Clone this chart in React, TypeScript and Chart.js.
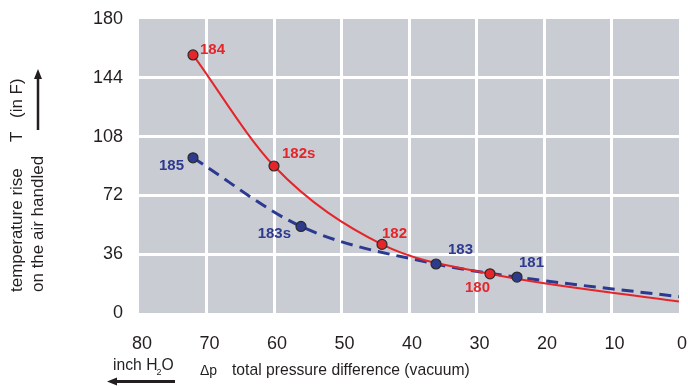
import React, { useEffect, useRef } from "react";
import { Chart, registerables } from "chart.js";

Chart.register(...registerables);

// ---- data ----
const redPressure = [72, 60, 44, 28, 0];
const redTemp = [158, 90, 42, 24, 7];
const redNames = ["184", "182s", "182", "180", ""];

const bluePressure = [72, 56, 36, 24, 0];
const blueTemp = [95, 53, 30, 22, 10];
const blueNames = ["185", "183s", "183", "181", ""];

const xMin = 0;
const xMax = 80;
const xStep = 10;
const yMin = 0;
const yMax = 180;
const yStep = 36;

// ---- styling ----
const FONT = '"Liberation Sans", Arial, Helvetica, sans-serif';
const TEXT = "#231f20";
const RED = "#e4252a";
const BLUE = "#2b3990";
const PLOT_BG = "#c9ccd3";

// label placement relative to the point: [dx, dy, align]
const redLabelPlace: [number, number, CanvasTextAlign][] = [
  [7, -5, "left"],
  [8, -12, "left"],
  [0, -11, "left"],
  [0, 14, "right"],
  [0, 0, "left"],
];
const blueLabelPlace: [number, number, CanvasTextAlign][] = [
  [-9, 8, "right"],
  [-10, 7, "right"],
  [12, -14, "left"],
  [2, -14, "left"],
  [0, 0, "left"],
];

const toPoints = (xs: number[], ys: number[]) => xs.map((x, i) => ({ x, y: ys[i] }));

const bgPlugin = {
  id: "plotBg",
  beforeDraw(chart: any) {
    const { ctx, chartArea } = chart;
    ctx.save();
    ctx.fillStyle = PLOT_BG;
    ctx.fillRect(chartArea.left, chartArea.top, chartArea.right - chartArea.left, chartArea.bottom - chartArea.top);
    ctx.restore();
  },
};

const pointLabelPlugin = {
  id: "pointLabels",
  afterDatasetsDraw(chart: any) {
    const ctx = chart.ctx;
    const sets: [number, string[], [number, number, CanvasTextAlign][], string][] = [
      [2, redNames, redLabelPlace, RED],
      [3, blueNames, blueLabelPlace, "#2e3a8f"],
    ];
    ctx.save();
    ctx.font = `bold 15px ${FONT}`;
    ctx.textBaseline = "middle";
    for (const [di, names, place, color] of sets) {
      const meta = chart.getDatasetMeta(di);
      meta.data.forEach((el: any, i: number) => {
        const t = names[i];
        if (!t) return;
        const [dx, dy, al] = place[i];
        ctx.fillStyle = color;
        ctx.textAlign = al;
        ctx.fillText(t, el.x + dx, el.y + dy);
      });
    }
    ctx.restore();
  },
};

const arrow = (ctx: CanvasRenderingContext2D, x1: number, y1: number, x2: number, y2: number) => {
  const ang = Math.atan2(y2 - y1, x2 - x1);
  const head = 10;
  const half = 4;
  ctx.beginPath();
  ctx.moveTo(x1, y1);
  ctx.lineTo(x2 - Math.cos(ang) * head * 0.8, y2 - Math.sin(ang) * head * 0.8);
  ctx.stroke();
  ctx.beginPath();
  ctx.moveTo(x2, y2);
  ctx.lineTo(x2 - Math.cos(ang) * head - Math.sin(ang) * half, y2 - Math.sin(ang) * head + Math.cos(ang) * half);
  ctx.lineTo(x2 - Math.cos(ang) * head + Math.sin(ang) * half, y2 - Math.sin(ang) * head - Math.cos(ang) * half);
  ctx.closePath();
  ctx.fill();
};

const titlesPlugin = {
  id: "axisTitles",
  afterDraw(chart: any) {
    const ctx: CanvasRenderingContext2D = chart.ctx;
    ctx.save();
    ctx.fillStyle = TEXT;
    ctx.strokeStyle = TEXT;
    // vertical title
    const rot = (text: string, x: number, y: number) => {
      ctx.save();
      ctx.translate(x, y);
      ctx.rotate(-Math.PI / 2);
      ctx.textAlign = "left";
      ctx.textBaseline = "middle";
      ctx.fillText(text, 0, 0);
      ctx.restore();
    };
    ctx.font = `17px ${FONT}`;
    rot("temperature rise", 17, 292);
    rot("T", 17, 142);
    rot("(in F)", 17, 118);
    rot("on the air handled", 38, 292);
    ctx.lineWidth = 2.5;
    arrow(ctx, 38, 130, 38, 69);

    // horizontal title
    ctx.textAlign = "left";
    ctx.textBaseline = "alphabetic";
    ctx.font = `15.7px ${FONT}`;
    const a = "inch H";
    ctx.fillText(a, 113, 370);
    const wa = ctx.measureText(a).width;
    ctx.font = `9px ${FONT}`;
    ctx.fillText("2", 113 + wa - 1, 375);
    const w2 = ctx.measureText("2").width;
    ctx.font = `15.7px ${FONT}`;
    ctx.fillText("O", 113 + wa + w2 - 1, 370);
    ctx.lineWidth = 3;
    arrow(ctx, 175, 381.5, 107, 381.5);

    ctx.font = `14px ${FONT}`;
    ctx.fillText("\u0394p", 200, 375);
    ctx.font = `15.7px ${FONT}`;
    ctx.fillText("total pressure difference (vacuum)", 232, 375);
    ctx.restore();
  },
};

export default function App() {
  const ref = useRef<HTMLCanvasElement>(null);

  useEffect(() => {
    if (!ref.current) return;
    const redPts = toPoints(redPressure, redTemp);
    const bluePts = toPoints(bluePressure, blueTemp);
    const radius = (names: string[]) => names.map((n) => (n ? 5 : 0));

    const chart = new Chart(ref.current, {
      type: "line",
      data: {
        datasets: [
          {
            data: redPts,
            borderColor: RED,
            borderWidth: 2,
            pointRadius: 0,
            cubicInterpolationMode: "monotone",
            fill: false,
            order: 1,
          },
          {
            data: bluePts,
            borderColor: BLUE,
            borderWidth: 3,
            borderDash: [12, 7],
            pointRadius: 0,
            cubicInterpolationMode: "monotone",
            fill: false,
            order: 2,
          },
          {
            data: redPts,
            showLine: false,
            pointRadius: radius(redNames),
            pointBackgroundColor: RED,
            pointBorderColor: "#2a2a2a",
            pointBorderWidth: 1.2,
            order: 0,
          },
          {
            data: bluePts,
            showLine: false,
            pointRadius: radius(blueNames),
            pointBackgroundColor: "#2e3a8c",
            pointBorderColor: "#2a2a2a",
            pointBorderWidth: 1.2,
            order: 0,
          },
        ],
      },
      options: {
        animation: false,
        responsive: false,
        layout: { padding: { top: 19, right: 9, left: 0, bottom: 0 } },
        plugins: {
          legend: { display: false },
          tooltip: { enabled: false },
        },
        scales: {
          x: {
            type: "linear",
            reverse: true,
            min: xMin,
            max: xMax,
            border: { display: false },
            grid: {
              drawTicks: false,
              lineWidth: 3,
              color: (c: any) => (c.tick && (c.tick.value === xMin || c.tick.value === xMax) ? "rgba(0,0,0,0)" : "#ffffff"),
            },
            ticks: {
              stepSize: xStep,
              padding: 20,
              labelOffset: 3,
              color: TEXT,
              font: { family: FONT, size: 18 },
              maxRotation: 0,
              autoSkip: false,
            },
            afterFit: (s: any) => {
              s.height = 73;
              s.paddingLeft = 0;
              s.paddingRight = 0;
            },
          },
          y: {
            type: "linear",
            min: yMin,
            max: yMax,
            border: { display: false },
            grid: {
              drawTicks: false,
              lineWidth: 3,
              color: (c: any) => (c.tick && (c.tick.value === yMin || c.tick.value === yMax) ? "rgba(0,0,0,0)" : "#ffffff"),
            },
            ticks: {
              stepSize: yStep,
              padding: 16,
              color: TEXT,
              font: { family: FONT, size: 18 },
              autoSkip: false,
            },
            afterFit: (s: any) => {
              s.width = 139;
              s.paddingTop = 0;
              s.paddingBottom = 0;
            },
          },
        },
      },
      plugins: [bgPlugin, pointLabelPlugin, titlesPlugin],
    } as any);

    return () => chart.destroy();
  }, []);

  return (
    <div style={{ position: "absolute", left: 0, top: 0, width: 688, height: 386, background: "#fff" }}>
      <canvas ref={ref} width={688} height={386} style={{ display: "block" }} />
    </div>
  );
}
